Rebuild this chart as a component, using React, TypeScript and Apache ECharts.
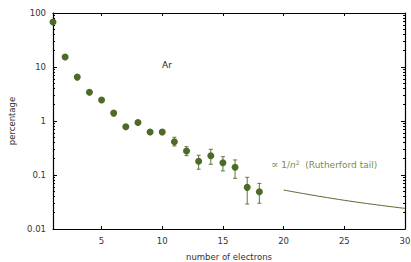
import React, { useEffect, useRef } from "react";
import * as echarts from "echarts";

const electrons = [1, 2, 3, 4, 5, 6, 7, 8, 9, 10, 11, 12, 13, 14, 15, 16, 17, 18];
const percentage = [68, 15.3, 6.5, 3.4, 2.45, 1.4, 0.785, 0.94, 0.625, 0.625, 0.414, 0.278, 0.18, 0.228, 0.169, 0.139, 0.059, 0.049];
const errLow = [68, 15.3, 6.5, 3.4, 2.45, 1.4, 0.74, 0.88, 0.57, 0.56, 0.345, 0.228, 0.128, 0.158, 0.119, 0.087, 0.029, 0.03];
const errHigh = [68, 15.3, 6.5, 3.4, 2.45, 1.4, 0.83, 1.0, 0.69, 0.69, 0.5, 0.334, 0.232, 0.299, 0.218, 0.19, 0.0906, 0.07];
const tailX = [20, 25, 30];
const tailY = [0.0527, 0.034, 0.0241];
const xTicks = [5, 10, 15, 20, 25, 30];
const yMajor = [0.01, 0.1, 1, 10, 100];
const yMinor: number[] = [];
for (let d = -2; d < 2; d++) {
  for (let m = 2; m <= 9; m++) yMinor.push(parseFloat((m * Math.pow(10, d)).toPrecision(3)));
}

const FONT = "DejaVu Sans";
const MARK = "#4e6a28";
const ERR = "#5f7638";
const TAIL = "#7c8a4e";

export default function App() {
  const ref = useRef<HTMLDivElement>(null);
  useEffect(() => {
    if (!ref.current) return;
    const chart = echarts.init(ref.current, null, { renderer: "svg" });
    const yBase = (pos: "left" | "right", ticks: number[], len: number, labels: boolean, line: boolean) => ({
      type: "log",
      logBase: 10,
      min: 0.01,
      max: 100,
      position: pos,
      axisLine: { show: line, lineStyle: { color: "#000", width: 1.2 } },
      axisTick: { show: true, inside: true, length: len, customValues: ticks, lineStyle: { color: "#000", width: 1 } },
      axisLabel: {
        show: labels,
        customValues: yMajor,
        color: "#333",
        fontFamily: FONT,
        fontSize: 8.5,
        margin: 7,
        formatter: (v: number) => String(v),
      },
      splitLine: { show: false },
    });
    const xBase = (pos: "bottom" | "top", labels: boolean) => ({
      type: "value",
      min: 1,
      max: 30,
      position: pos,
      axisLine: { show: true, onZero: false, lineStyle: { color: "#000", width: 1.2 } },
      axisTick: { show: true, inside: true, length: 3, customValues: xTicks, lineStyle: { color: "#000" } },
      axisLabel: { show: labels, customValues: xTicks, color: "#333", fontFamily: FONT, fontSize: 8.5, margin: 7 },
      splitLine: { show: false },
      name: labels ? "number of electrons" : "",
      nameLocation: "middle",
      nameGap: 23,
      nameTextStyle: { color: "#333", fontFamily: FONT, fontSize: 8.5 },
    });
    const yAxes: any[] = [
      yBase("left", yMajor, 4, true, true),
      yBase("left", yMinor, 2, false, false),
      yBase("right", yMajor, 4, false, true),
      yBase("right", yMinor, 2, false, false),
    ];
    yAxes[0].name = "percentage";
    yAxes[0].nameLocation = "middle";
    yAxes[0].nameGap = 37;
    yAxes[0].nameRotate = 90;
    yAxes[0].nameTextStyle = { color: "#333", fontFamily: FONT, fontSize: 8.5 };

    const errData = electrons.map((n, i) => [n, errLow[i], errHigh[i]]).filter((d) => d[2] > d[1]);

    chart.setOption({
      animation: false,
      grid: { left: 53, right: 6, top: 13, bottom: 33, outerBoundsMode: "none", containLabel: false },
      xAxis: [xBase("bottom", true), xBase("top", false)],
      yAxis: yAxes,
      graphic: [
        {
          type: "text",
          left: 162,
          top: 60,
          style: { text: "Ar", fill: "#222", font: `9px "${FONT}"` },
        },
        {
          type: "text",
          left: 271,
          top: 159,
          style: {
            text: "{p|∝} 1/{i|n}{s|2}  (Rutherford tail)",
            fill: TAIL,
            font: `9px "${FONT}"`,
            rich: {
              p: { fill: TAIL, fontFamily: "DejaVu Serif", fontSize: 11 },
              i: { fontStyle: "italic", fill: TAIL, fontFamily: FONT, fontSize: 9 },
              s: { fill: TAIL, fontFamily: FONT, fontSize: 6, verticalAlign: "top", padding: [0, 0, 4, 0] },
            },
          },
        },
      ],
      series: [
        {
          type: "custom",
          xAxisIndex: 0,
          yAxisIndex: 0,
          data: errData,
          z: 2,
          renderItem: (params: any, api: any) => {
            const x = api.value(0);
            const lo = api.coord([x, api.value(1)]);
            const hi = api.coord([x, api.value(2)]);
            const cap = 2;
            const style = { stroke: ERR, lineWidth: 1 };
            return {
              type: "group",
              children: [
                { type: "line", shape: { x1: lo[0], y1: lo[1], x2: hi[0], y2: hi[1] }, style },
                { type: "line", shape: { x1: lo[0] - cap, y1: lo[1], x2: lo[0] + cap, y2: lo[1] }, style },
                { type: "line", shape: { x1: hi[0] - cap, y1: hi[1], x2: hi[0] + cap, y2: hi[1] }, style },
              ],
            };
          },
        },
        {
          type: "scatter",
          xAxisIndex: 0,
          yAxisIndex: 0,
          data: electrons.map((n, i) => [n, percentage[i]]),
          symbol: "circle",
          symbolSize: 7,
          itemStyle: { color: MARK, opacity: 1 },
          z: 3,
        },
        {
          type: "line",
          xAxisIndex: 0,
          yAxisIndex: 0,
          data: tailX.map((n, i) => [n, tailY[i]]),
          smooth: true,
          showSymbol: false,
          lineStyle: { color: "#5a6b2e", width: 1 },
        },
      ],
    });
    return () => chart.dispose();
  }, []);
  return <div ref={ref} style={{ width: 411, height: 262, position: "absolute", left: 0, top: 0 }} />;
}
